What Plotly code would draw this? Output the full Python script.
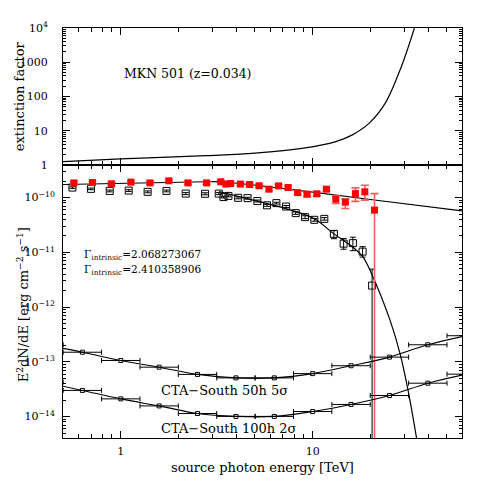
import plotly.graph_objects as go
from plotly.subplots import make_subplots

# extinction factor (top panel)
ext_e = [0.5, 1.0, 2.79, 5.0, 8.97, 13.2, 16.1, 19.7, 23.9, 29.0, 33.9]
ext_v = [1.25, 1.50, 1.87, 2.20, 3.08, 4.81, 7.55, 16.6, 64.0, 753.0, 1.0e4]

# de-absorbed spectrum (red)
red_e = [0.570, 0.712, 0.894, 1.13, 1.42, 1.78, 2.24, 2.80, 3.32, 3.53, 3.73, 4.20, 4.69,
         5.26, 5.92, 6.64, 7.45, 8.35, 9.35, 10.5, 11.8, 13.2, 14.8, 16.7, 18.7, 21.0]
red_v = [1.85e-10, 1.88e-10, 1.78e-10, 1.91e-10, 1.85e-10, 2.02e-10, 1.85e-10, 1.85e-10,
         1.94e-10, 1.76e-10, 1.80e-10, 1.76e-10, 1.73e-10, 1.64e-10, 1.42e-10, 1.63e-10,
         1.52e-10, 1.23e-10, 1.15e-10, 1.17e-10, 1.42e-10, 9.35e-11, 8.24e-11, 1.18e-10,
         1.27e-10, 5.89e-11]
red_hi = [1.95e-10, 1.98e-10, 1.88e-10, 2.01e-10, 1.95e-10, 2.12e-10, 1.95e-10, 1.95e-10,
          2.04e-10, 1.86e-10, 1.90e-10, 1.86e-10, 1.83e-10, 1.74e-10, 1.52e-10, 1.73e-10,
          1.62e-10, 1.33e-10, 1.25e-10, 1.27e-10, 1.54e-10, 1.09e-10, 9.47e-11, 1.50e-10,
          1.68e-10, 1.18e-10]
red_lo = [1.75e-10, 1.78e-10, 1.68e-10, 1.81e-10, 1.75e-10, 1.92e-10, 1.75e-10, 1.75e-10,
          1.84e-10, 1.66e-10, 1.70e-10, 1.66e-10, 1.63e-10, 1.54e-10, 1.32e-10, 1.53e-10,
          1.42e-10, 1.13e-10, 1.05e-10, 1.07e-10, 1.30e-10, 7.80e-11, 6.30e-11, 8.50e-11,
          8.96e-11, 1.0e-16]

# observed spectrum (black open squares)
blk_e = [0.560, 0.699, 0.876, 1.10, 1.38, 1.73, 2.18, 2.75, 3.24, 3.43, 3.64, 4.09, 4.58,
         5.15, 5.78, 6.47, 7.27, 8.16, 9.13, 10.2, 11.5, 12.9, 14.5, 16.2, 18.2, 20.4]
blk_v = [1.52e-10, 1.44e-10, 1.32e-10, 1.34e-10, 1.27e-10, 1.32e-10, 1.18e-10, 1.17e-10,
         1.18e-10, 1.02e-10, 1.07e-10, 9.88e-11, 9.75e-11, 8.63e-11, 7.21e-11, 7.90e-11,
         6.85e-11, 5.19e-11, 4.38e-11, 3.92e-11, 4.08e-11, 2.17e-11, 1.44e-11, 1.47e-11,
         1.03e-11, 2.47e-12]
blk_hi = [1.57e-10, 1.49e-10, 1.37e-10, 1.39e-10, 1.32e-10, 1.37e-10, 1.23e-10, 1.22e-10,
          1.23e-10, 1.06e-10, 1.11e-10, 1.03e-10, 1.01e-10, 9.0e-11, 7.5e-11, 8.2e-11,
          7.15e-11, 5.45e-11, 4.65e-11, 4.15e-11, 4.3e-11, 2.49e-11, 1.78e-11, 1.89e-11,
          1.27e-11, 4.92e-12]
blk_lo = [1.47e-10, 1.39e-10, 1.27e-10, 1.29e-10, 1.22e-10, 1.27e-10, 1.13e-10, 1.12e-10,
          1.13e-10, 9.8e-11, 1.03e-10, 9.48e-11, 9.35e-11, 8.28e-11, 6.92e-11, 7.6e-11,
          6.55e-11, 4.93e-11, 4.11e-11, 3.7e-11, 3.86e-11, 1.77e-11, 1.14e-11, 1.07e-11,
          8.17e-12, 1.0e-16]

# fitted curves
red_fit_e = [0.5, 1.0, 2.2, 3.25, 4.8, 5.8, 10.0, 20.0, 60.0]
red_fit_v = [1.73e-10, 1.80e-10, 1.88e-10, 1.96e-10, 1.71e-10, 1.59e-10, 1.26e-10, 9.2e-11, 5.72e-11]
blk_fit_e = [3.25, 4.82, 7.1, 10.2, 12.9, 16.2, 18.2, 20.4, 25.3, 28.5, 31.4, 34.8]
blk_fit_v = [1.29e-10, 9.08e-11, 6.4e-11, 4.1e-11, 2.17e-11, 1.24e-11, 8.4e-12, 3.87e-12,
             5.77e-13, 1.43e-13, 3.04e-14, 4.0e-15]

# CTA-South sensitivity
cta_e = [0.398, 0.631, 1.0, 1.585, 2.512, 3.981, 6.310, 10.0, 15.85, 25.12, 39.81, 63.10]
cta_e_lo = [0.316, 0.501, 0.794, 1.259, 1.995, 3.162, 5.012, 7.943, 12.59, 19.95, 31.62, 50.12]
cta_e_hi = [0.501, 0.794, 1.259, 1.995, 3.162, 5.012, 7.943, 12.59, 19.95, 31.62, 50.12, 79.43]
cta_50h = [2.05e-13, 1.50e-13, 1.06e-13, 8.0e-14, 5.9e-14, 5.1e-14, 5.1e-14, 6.1e-14,
           8.5e-14, 1.22e-13, 2.05e-13, 3.0e-13]
cta_100h = [4.26e-14, 3.01e-14, 2.11e-14, 1.57e-14, 1.14e-14, 1.01e-14, 1.01e-14, 1.24e-14,
            1.67e-14, 2.43e-14, 4.08e-14, 5.96e-14]

FONT = "DejaVu Serif"

fig = make_subplots(rows=2, cols=1, shared_xaxes=True, vertical_spacing=0,
                    row_heights=[0.334, 0.666])

fig.add_trace(go.Scatter(x=ext_e, y=ext_v, mode="lines", line=dict(color="black", width=1.2, shape="spline")),
              row=1, col=1)

fig.add_trace(go.Scatter(x=red_fit_e, y=red_fit_v, mode="lines", line=dict(color="black", width=1.2)),
              row=2, col=1)
fig.add_trace(go.Scatter(x=blk_fit_e, y=blk_fit_v, mode="lines",
                         line=dict(color="black", width=1.2, shape="spline")), row=2, col=1)

fig.add_trace(go.Scatter(
    x=blk_e, y=blk_v, mode="markers",
    marker=dict(symbol="square-open", size=7, color="black", line=dict(width=1)),
    error_y=dict(type="data", symmetric=False,
                 array=[h - v for h, v in zip(blk_hi, blk_v)],
                 arrayminus=[v - l for v, l in zip(blk_v, blk_lo)],
                 color="black", thickness=1, width=3)), row=2, col=1)

fig.add_trace(go.Scatter(
    x=red_e, y=red_v, mode="markers",
    marker=dict(symbol="square", size=7, color="#ff0000"),
    error_y=dict(type="data", symmetric=False,
                 array=[h - v for h, v in zip(red_hi, red_v)],
                 arrayminus=[v - l for v, l in zip(red_v, red_lo)],
                 color="#ff5a5a", thickness=1.6, width=4)), row=2, col=1)

for sens in (cta_50h, cta_100h):
    fig.add_trace(go.Scatter(
        x=cta_e, y=sens, mode="lines+markers",
        line=dict(color="black", width=1.1, shape="spline"),
        marker=dict(symbol="square-open", size=4, color="black", line=dict(width=1)),
        error_x=dict(type="data", symmetric=False,
                     array=[h - e for h, e in zip(cta_e_hi, cta_e)],
                     arrayminus=[e - l for e, l in zip(cta_e, cta_e_lo)],
                     color="black", thickness=1, width=2.5)), row=2, col=1)

axis_common = dict(type="log", showline=True, linecolor="black", linewidth=1, mirror="allticks",
                   ticks="inside", ticklen=7, tickwidth=1, tickcolor="black", showgrid=False,
                   zeroline=False, tickfont=dict(family=FONT, size=11, color="black"))

x_minor = [0.6, 0.7, 0.8, 0.9, 2, 3, 4, 5, 6, 7, 8, 9, 20, 30, 40, 50]
fig.update_xaxes(axis_common, range=[-0.30103, 1.77815], tickvals=[1, 10], ticktext=["1", "10"],
                 minor=dict(ticks="inside", ticklen=4, tickcolor="black", tickvals=x_minor),
                 ticklabelstandoff=3)
fig.update_xaxes(showticklabels=False, row=1, col=1)

y_minor_top = [m * 10 ** d for d in range(0, 4) for m in range(2, 10)]
fig.update_yaxes(axis_common, range=[0, 4], tickvals=[1, 10, 100, 1000, 1e4],
                 ticktext=["1", "10", "100", "1000", "10<sup>4</sup>"],
                 minor=dict(ticks="inside", ticklen=3, tickcolor="black", tickvals=y_minor_top),
                 ticklabelstandoff=12, row=1, col=1)
y_minor_bot = [m * 10.0 ** d for d in range(-15, -9) for m in range(2, 10)]
fig.update_yaxes(axis_common, range=[-14.39, -9.405],
                 tickvals=[1e-14, 1e-13, 1e-12, 1e-11, 1e-10],
                 ticktext=["10<sup>−14</sup>", "10<sup>−13</sup>", "10<sup>−12</sup>",
                           "10<sup>−11</sup>", "10<sup>−10</sup>"],
                 minor=dict(ticks="inside", ticklen=3, tickcolor="black", tickvals=y_minor_bot),
                 ticklabelstandoff=5, row=2, col=1)

notes = [
    dict(text="MKN 501 (z=0.034)", x=0.147, y=0.888, xanchor="left", size=12.5),
    dict(text="Γ<sub>intrinsic</sub>=2.068273067", x=0.048, y=0.446, xanchor="left", size=10.5),
    dict(text="Γ<sub>intrinsic</sub>=2.410358906", x=0.048, y=0.409, xanchor="left", size=10.5),
    dict(text="CTA−South 50h 5σ", x=0.241, y=0.115, xanchor="left", size=13),
    dict(text="CTA−South 100h 2σ", x=0.241, y=0.024, xanchor="left", size=13),
    dict(text="source photon energy [TeV]", x=0.5, y=-0.071, xanchor="center", size=13),
]
for n in notes:
    fig.add_annotation(text=n["text"], x=n["x"], y=n["y"], xref="paper", yref="paper",
                       xanchor=n["xanchor"], yanchor="middle", showarrow=False,
                       font=dict(family=FONT, size=n["size"], color="black"))

fig.add_annotation(text="extinction factor", x=-0.110, y=0.834, xref="paper", yref="paper",
                   textangle=-90, showarrow=False, xanchor="center", yanchor="middle",
                   font=dict(family=FONT, size=13, color="black"))
fig.add_annotation(text="E<sup>2</sup>dN/dE [erg cm<sup>−2</sup> s<sup>−1</sup>]", x=-0.100, y=0.324,
                   xref="paper", yref="paper", textangle=-90, showarrow=False,
                   xanchor="center", yanchor="middle", font=dict(family=FONT, size=13, color="black"))

# page body adds an 8px offset, so the figure is 483 px and margins are shifted
fig.update_layout(width=483, height=483, margin=dict(l=45, r=29, t=20, b=53),
                  showlegend=False, plot_bgcolor="white", paper_bgcolor="white",
                  font=dict(family=FONT, color="black"))

fig.write_html("out.html")
